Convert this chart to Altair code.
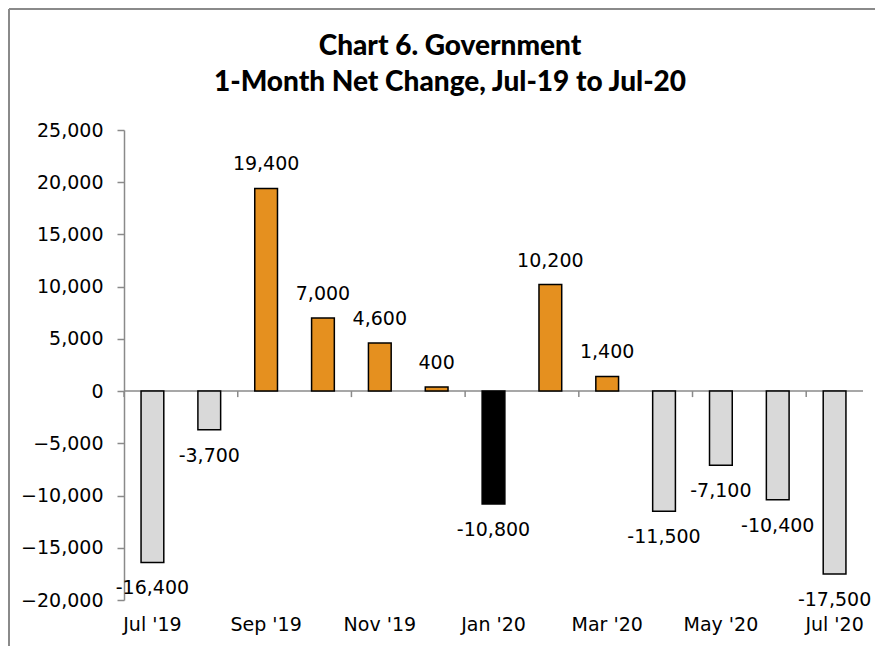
import altair as alt
import pandas as pd

months = ["Jul '19", "Aug '19", "Sep '19", "Oct '19", "Nov '19", "Dec '19", "Jan '20",
          "Feb '20", "Mar '20", "Apr '20", "May '20", "Jun '20", "Jul '20"]
values = [-16400, -3700, 19400, 7000, 4600, 400, -10800, 10200, 1400, -11500, -7100, -10400, -17500]
groups = ["neg", "neg", "pos", "pos", "pos", "pos", "jan", "pos", "pos", "neg", "neg", "neg", "neg"]
shown_labels = ["Jul '19", "Sep '19", "Nov '19", "Jan '20", "Mar '20", "May '20", "Jul '20"]
tick_months = ["Jul '19", "Sep '19", "Nov '19", "Jan '20", "Mar '20", "May '20", "Jul '20"]
y_ticks = [-20000, -15000, -10000, -5000, 0, 5000, 10000, 15000, 20000, 25000]
title_lines = ["Chart 6. Government", "1-Month Net Change, Jul-19 to Jul-20"]
title_y = [-75, -39]

df = pd.DataFrame({"month": months, "value": values, "group": groups})
df["label"] = [f"{v:,}" for v in values]
ticks_df = pd.DataFrame({"month": tick_months, "z": [0] * len(tick_months)})
title_df = pd.DataFrame({"t": title_lines, "ty": title_y})

FONT = "DejaVu Sans"
TFONT = "Lato"
W, H = 739, 470

xscale = alt.Scale(domain=months, paddingInner=0.6, paddingOuter=0.3)
yscale = alt.Scale(domain=[-20000, 25000], nice=False)

base = alt.Chart(df)

bars = base.mark_bar(stroke="black", strokeWidth=1.5).encode(
    x=alt.X("month:N", scale=xscale, sort=months,
            axis=alt.Axis(values=shown_labels, labelAngle=0, domain=False, ticks=False,
                          labelPadding=15, labelFont=FONT, labelFontSize=19,
                          labelColor="black", title=None)),
    y=alt.Y("value:Q", scale=yscale,
            axis=alt.Axis(values=y_ticks, format=",.0f", grid=False, domainColor="#8a8a8a",
                          domainWidth=1.5, tickColor="#8a8a8a", tickWidth=1.5, tickSize=7,
                          labelPadding=14, labelFont=FONT, labelFontSize=19,
                          labelColor="black", title=None)),
    color=alt.Color("group:N", scale=alt.Scale(domain=["neg", "pos", "jan"],
                                               range=["#d9d9d9", "#e5901f", "#000000"]),
                    legend=None),
)

zero = alt.Chart(pd.DataFrame({"v": [0]})).mark_rule(color="#8a8a8a", strokeWidth=1.5).encode(
    y=alt.Y("v:Q", scale=yscale), x=alt.value(0), x2=alt.value(W)
)

xticks = alt.Chart(ticks_df).mark_rule(color="#8a8a8a", strokeWidth=1.5, y2Offset=6,
                                       xOffset=-17).encode(
    x=alt.X("month:N", scale=xscale, sort=months, bandPosition=0),
    y=alt.Y("z:Q", scale=yscale),
    y2=alt.Y2("z:Q"),
)

pos_labels = base.transform_filter("datum.value >= 0").mark_text(
    dy=-24, font=FONT, fontSize=19, color="black", baseline="middle").encode(
    x=alt.X("month:N", scale=xscale, sort=months), y=alt.Y("value:Q", scale=yscale),
    text="label:N")

neg_labels = base.transform_filter("datum.value < 0").mark_text(
    dy=26, font=FONT, fontSize=19, color="black", baseline="middle").encode(
    x=alt.X("month:N", scale=xscale, sort=months), y=alt.Y("value:Q", scale=yscale),
    text="label:N")

titles = alt.Chart(title_df).mark_text(
    font=TFONT, fontSize=28, fontWeight=900, color="black", align="center",
    baseline="alphabetic").encode(
    x=alt.value(326), y=alt.Y("ty:Q", scale=None), text="t:N")

frame_df = pd.DataFrame({"b": [1]})
border_top = alt.Chart(frame_df).mark_rule(color="#8a8a8a", strokeWidth=2).encode(
    x=alt.value(-115), x2=alt.value(W + 60), y=alt.value(-121))
border_left = alt.Chart(frame_df).mark_rule(color="#8a8a8a", strokeWidth=2).encode(
    x=alt.value(-115), y=alt.value(-121), y2=alt.value(H + 100))

chart = alt.layer(border_top, border_left, zero, bars, xticks, pos_labels, neg_labels,
                  titles).properties(
    width=W, height=H,
    autosize=alt.AutoSizeParams(type="none"),
    padding={"left": 116, "top": 122, "right": 12, "bottom": 46},
).configure_view(stroke=None)

chart.save("out.html", embed_options={"renderer": "svg", "actions": False})
